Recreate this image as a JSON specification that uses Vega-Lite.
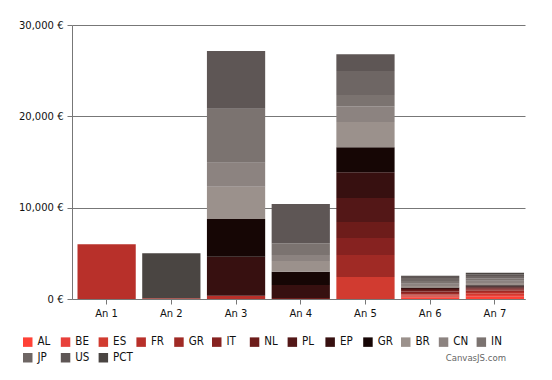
{
  "$schema": "https://vega.github.io/schema/vega-lite/v6.json",
  "width": 453,
  "height": 274,
  "autosize": {"type": "none"},
  "padding": {"left": 72, "top": 25, "right": 27, "bottom": 81},
  "background": "white",
  "config": {"view": {"stroke": null}, "font": "DejaVu Sans"},
  "title": {"text": "CanvasJS.com", "orient": "bottom", "anchor": "end", "font": "DejaVu Sans Condensed", "fontSize": 9.5, "fontWeight": "normal", "color": "#666", "offset": 12, "dy": -23, "dx": -19},
  "datasets": {
    "series": [
      {"s": "AL", "k": 1}, {"s": "BE", "k": 2}, {"s": "ES", "k": 3}, {"s": "FR", "k": 4},
      {"s": "GR", "k": 5}, {"s": "IT", "k": 6}, {"s": "NL", "k": 7}, {"s": "PL", "k": 8},
      {"s": "EP", "k": 9}, {"s": "GR2", "k": 10}, {"s": "BR", "k": 11}, {"s": "CN", "k": 12},
      {"s": "IN", "k": 13}, {"s": "JP", "k": 14}, {"s": "US", "k": 15}, {"s": "PCT", "k": 16}
    ]
  },
  "data": {"values": [
    {"year": "An 1", "s": "FR", "v": 6000},
    {"year": "An 2", "s": "FR", "v": 80},
    {"year": "An 2", "s": "PCT", "v": 4920},
    {"year": "An 3", "s": "FR", "v": 360},
    {"year": "An 3", "s": "EP", "v": 4270},
    {"year": "An 3", "s": "GR2", "v": 4130},
    {"year": "An 3", "s": "BR", "v": 3540},
    {"year": "An 3", "s": "CN", "v": 2630},
    {"year": "An 3", "s": "IN", "v": 5910},
    {"year": "An 3", "s": "US", "v": 6320},
    {"year": "An 4", "s": "NL", "v": 100},
    {"year": "An 4", "s": "EP", "v": 1420},
    {"year": "An 4", "s": "GR2", "v": 1460},
    {"year": "An 4", "s": "BR", "v": 1170},
    {"year": "An 4", "s": "CN", "v": 660},
    {"year": "An 4", "s": "IN", "v": 1280},
    {"year": "An 4", "s": "US", "v": 4300},
    {"year": "An 5", "s": "ES", "v": 2410},
    {"year": "An 5", "s": "GR", "v": 2410},
    {"year": "An 5", "s": "IT", "v": 1860},
    {"year": "An 5", "s": "NL", "v": 1750},
    {"year": "An 5", "s": "PL", "v": 2630},
    {"year": "An 5", "s": "EP", "v": 2810},
    {"year": "An 5", "s": "GR2", "v": 2740},
    {"year": "An 5", "s": "BR", "v": 2770},
    {"year": "An 5", "s": "CN", "v": 1720},
    {"year": "An 5", "s": "IN", "v": 1240},
    {"year": "An 5", "s": "JP", "v": 2630},
    {"year": "An 5", "s": "US", "v": 1830},
    {"year": "An 6", "s": "AL", "v": 150},
    {"year": "An 6", "s": "BE", "v": 100},
    {"year": "An 6", "s": "ES", "v": 120},
    {"year": "An 6", "s": "FR", "v": 130},
    {"year": "An 6", "s": "GR", "v": 150},
    {"year": "An 6", "s": "IT", "v": 180},
    {"year": "An 6", "s": "NL", "v": 150},
    {"year": "An 6", "s": "PL", "v": 120},
    {"year": "An 6", "s": "EP", "v": 100},
    {"year": "An 6", "s": "GR2", "v": 60},
    {"year": "An 6", "s": "BR", "v": 150},
    {"year": "An 6", "s": "CN", "v": 250},
    {"year": "An 6", "s": "IN", "v": 300},
    {"year": "An 6", "s": "JP", "v": 350},
    {"year": "An 6", "s": "US", "v": 200},
    {"year": "An 6", "s": "PCT", "v": 40},
    {"year": "An 7", "s": "AL", "v": 250},
    {"year": "An 7", "s": "BE", "v": 200},
    {"year": "An 7", "s": "ES", "v": 180},
    {"year": "An 7", "s": "FR", "v": 150},
    {"year": "An 7", "s": "GR", "v": 150},
    {"year": "An 7", "s": "IT", "v": 130},
    {"year": "An 7", "s": "NL", "v": 120},
    {"year": "An 7", "s": "PL", "v": 110},
    {"year": "An 7", "s": "EP", "v": 110},
    {"year": "An 7", "s": "GR2", "v": 110},
    {"year": "An 7", "s": "BR", "v": 250},
    {"year": "An 7", "s": "CN", "v": 250},
    {"year": "An 7", "s": "IN", "v": 250},
    {"year": "An 7", "s": "JP", "v": 250},
    {"year": "An 7", "s": "US", "v": 200},
    {"year": "An 7", "s": "PCT", "v": 170}
  ]},
  "transform": [
    {"lookup": "s", "from": {"data": {"name": "series"}, "key": "s", "fields": ["k"]}}
  ],
  "mark": {"type": "bar"},
  "encoding": {
    "x": {
      "field": "year", "type": "nominal",
      "scale": {"paddingInner": 0.1, "paddingOuter": 0.05, "align": 0.85},
      "axis": {"title": null, "labelAngle": 0, "labelFontSize": 10, "labelColor": "#111", "tickColor": "#777", "domainColor": "#777", "tickSize": 5, "labelPadding": 4, "grid": false}
    },
    "y": {
      "field": "v", "type": "quantitative", "stack": "zero",
      "scale": {"domain": [0, 30000], "nice": false},
      "axis": {"title": null, "values": [0, 10000, 20000, 30000], "labelExpr": "format(datum.value, ',') + ' €'", "labelFontSize": 10, "labelColor": "#111", "gridColor": "#777", "tickColor": "#777", "domainColor": "#777", "tickSize": 5, "labelPadding": 4}
    },
    "order": {"field": "k", "type": "quantitative", "sort": "ascending"},
    "color": {
      "field": "s", "type": "nominal",
      "scale": {
        "domain": ["AL","BE","ES","FR","GR","IT","NL","PL","EP","GR2","BR","CN","IN","JP","US","PCT"],
        "range": ["#ff4136","#e8403a","#d13b30","#b8302a","#a02a25","#862220","#6d1c1a","#531717","#371010","#160605","#9b918c","#8c8380","#7b7370","#6e6664","#5e5655","#4a4542"]
      },
      "legend": {"orient": "none", "legendX": -50, "legendY": 311, "direction": "horizontal", "columns": 13, "gridAlign": "all", "columnPadding": 1.8, "rowPadding": 3, "symbolType": "square", "symbolSize": 90, "symbolStrokeWidth": 0, "labelFont": "DejaVu Sans Condensed", "labelFontSize": 11.5, "labelColor": "#111", "labelOffset": 4, "title": null, "padding": 0, "labelExpr": "datum.label == 'GR2' ? 'GR' : datum.label"}
    }
  }
}
